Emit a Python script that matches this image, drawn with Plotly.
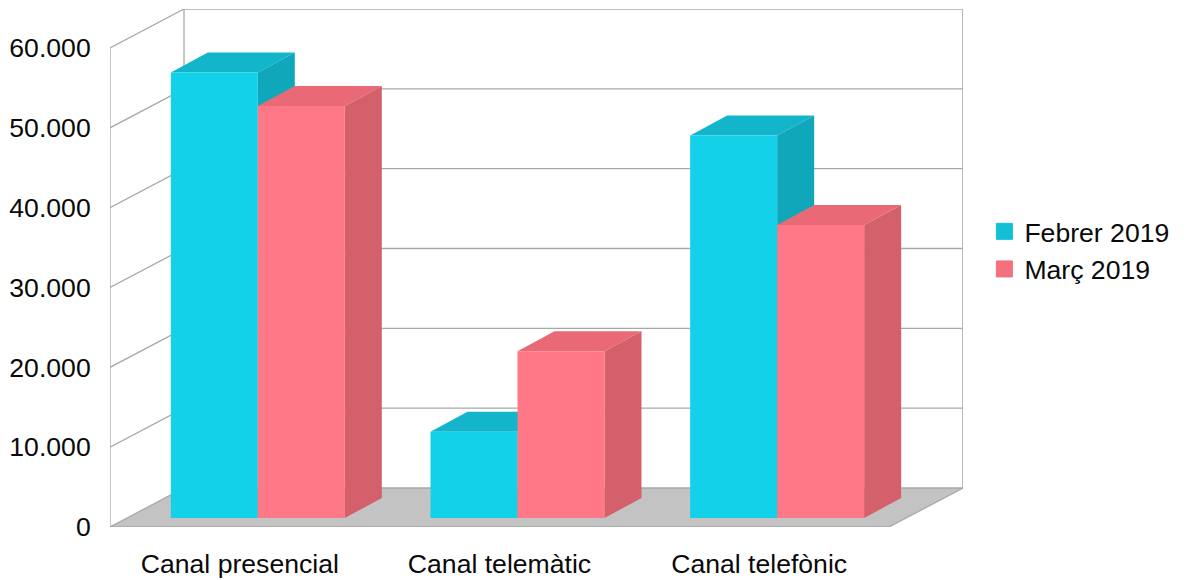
import plotly.graph_objects as go

# Chart data
categories = ["Canal presencial", "Canal telemàtic", "Canal telefònic"]
febrer_2019 = [55800, 10800, 47900]
marc_2019 = [51600, 20900, 36700]
tick_values = [0, 10000, 20000, 30000, 40000, 50000, 60000]
tick_labels = ["0", "10.000", "20.000", "30.000", "40.000", "50.000", "60.000"]

# Oblique projection of the box, in axis units
X_MIN, X_MAX = -0.5, 2.5
WALL_DX = 0.285
WALL_DY = 4885
BAR_WIDTH = 0.335
BAR_SHIFT = 0.0693
BAR_BASE = 1127
BAR_DX = 0.1425
BAR_DY = 2505
Y_TOP = 64888

INK = "#0a0a0a"
GRID = "#a8a8a8"
FLOOR = "#c3c3c3"
FONT = "Liberation Sans"
FONT_SIZE = 26.6
BLUE = dict(front="#13d1e8", top="#12b5ca", side="#11a7ba", key="#11c0d5")
RED = dict(front="#ff7888", top="#e96a76", side="#d4606c", key="#f5707f")

fig = go.Figure()


def polygon(xs, ys, color):
    fig.add_trace(go.Scatter(x=xs, y=ys, mode="lines", fill="toself", fillcolor=color,
                             line=dict(width=0, color=color), showlegend=False, hoverinfo="skip"))


def polyline(xs, ys, width=1.3):
    fig.add_trace(go.Scatter(x=xs, y=ys, mode="lines", line=dict(color=GRID, width=width),
                             showlegend=False, hoverinfo="skip"))


# Floor of the box
polygon([X_MIN, X_MAX, X_MAX + WALL_DX, X_MIN + WALL_DX, X_MIN],
        [0, 0, WALL_DY, WALL_DY, 0], FLOOR)

# Grid lines run across the side wall and then along the back wall
for value in tick_values:
    polyline([X_MIN, X_MIN + WALL_DX, X_MAX + WALL_DX], [value, value + WALL_DY, value + WALL_DY])

# Wall outlines
polyline([X_MIN, X_MIN], [0, tick_values[-1]])
polyline([X_MIN + WALL_DX, X_MIN + WALL_DX], [WALL_DY, tick_values[-1] + WALL_DY])
polyline([X_MAX + WALL_DX, X_MAX + WALL_DX], [WALL_DY, tick_values[-1] + WALL_DY], 1.6)
polyline([X_MIN, X_MAX, X_MAX + WALL_DX], [0, 0, WALL_DY])

# Top and side faces of every block, nearest series drawn last
for values, colors, offset in ((febrer_2019, BLUE, -0.5), (marc_2019, RED, 0.5)):
    for i, value in enumerate(values):
        x0 = i + BAR_SHIFT + (offset - 0.5) * BAR_WIDTH
        x1 = x0 + BAR_WIDTH
        top = value + BAR_BASE
        polygon([x0, x1, x1 + BAR_DX, x0 + BAR_DX, x0],
                [top, top, top + BAR_DY, top + BAR_DY, top], colors["top"])
        polygon([x1, x1 + BAR_DX, x1 + BAR_DX, x1, x1],
                [BAR_BASE, BAR_BASE + BAR_DY, top + BAR_DY, top, BAR_BASE], colors["side"])

# Front faces sit on an overlaid copy of the axes so they cover the oblique faces
for name, values, colors, offset in (("Febrer 2019", febrer_2019, BLUE, -0.5),
                                     ("Març 2019", marc_2019, RED, 0.5)):
    fig.add_trace(go.Bar(x=[i + BAR_SHIFT + offset * BAR_WIDTH for i in range(len(values))],
                         y=values, base=BAR_BASE, width=BAR_WIDTH, name=name,
                         marker=dict(color=colors["front"], line=dict(width=0)),
                         xaxis="x2", yaxis="y2", showlegend=False))
    # Legend key
    fig.add_trace(go.Scatter(x=[None], y=[None], mode="markers", name=name, legendgroup=name,
                             marker=dict(symbol="square", size=16, color=colors["key"],
                                         line=dict(width=1, color=colors["key"]))))

fig.update_layout(
    width=1186, height=580, autosize=False,
    margin=dict(l=110, r=223, t=9, b=53, pad=0),
    paper_bgcolor="white", plot_bgcolor="white",
    barmode="overlay",
    font=dict(family=FONT, size=FONT_SIZE, color=INK),
    xaxis=dict(range=[X_MIN, X_MAX + WALL_DX], tickmode="array", tickvals=[0, 1, 2],
               ticktext=categories, showgrid=False, zeroline=False, showline=False,
               automargin=False, ticks="outside", ticklen=13, tickcolor="rgba(0,0,0,0)",
               tickfont=dict(family=FONT, size=FONT_SIZE, color=INK)),
    yaxis=dict(range=[0, Y_TOP], tickmode="array", tickvals=tick_values, ticktext=tick_labels,
               showgrid=False, zeroline=False, showline=False,
               automargin=False, ticks="outside", ticklen=13, tickcolor="rgba(0,0,0,0)",
               tickfont=dict(family=FONT, size=FONT_SIZE, color=INK)),
    xaxis2=dict(range=[X_MIN, X_MAX + WALL_DX], overlaying="x", visible=False, automargin=False),
    yaxis2=dict(range=[0, Y_TOP], overlaying="y", visible=False, automargin=False),
    legend=dict(xref="container", yref="container", x=0.830, xanchor="left",
                y=0.568, yanchor="middle", itemwidth=30,
                font=dict(family=FONT, size=FONT_SIZE, color=INK), tracegroupgap=0,
                itemclick=False, itemdoubleclick=False, bgcolor="rgba(0,0,0,0)"),
)

fig.write_html("out.html", config=dict(displayModeBar=False))
